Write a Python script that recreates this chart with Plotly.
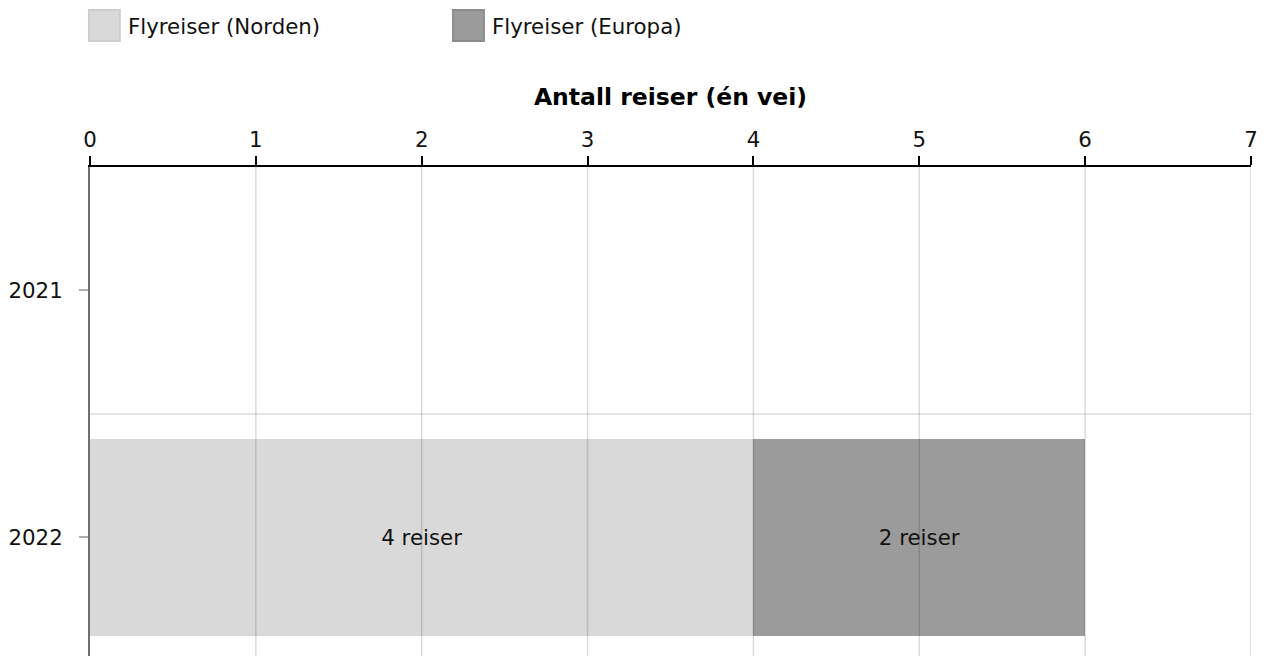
import plotly.graph_objects as go

years = ["2021", "2022"]
series_names = ["Flyreiser (Norden)", "Flyreiser (Europa)"]
norden = [None, 4]
europa = [None, 2]
bar_labels_norden = ["", "4 reiser"]
bar_labels_europa = ["", "2 reiser"]
x_ticks = [0, 1, 2, 3, 4, 5, 6, 7]
colors = ["#d9d9d9", "#9b9b9b"]
border_colors = ["#cdcdcd", "#8c8c8c"]

FONT = "Verdana, DejaVu Sans, sans-serif"
FS = 21.33

fig = go.Figure()
for vals, labels, name, col in [(norden, bar_labels_norden, series_names[0], colors[0]),
                                (europa, bar_labels_europa, series_names[1], colors[1])]:
    fig.add_trace(go.Bar(
        y=years, x=vals, name=name, orientation="h",
        marker=dict(color=col, line=dict(width=0)),
        text=labels, textposition="inside", insidetextanchor="middle",
        textfont=dict(family=FONT, size=FS, color="#111"),
        showlegend=False,
    ))

# manual legend (swatches + labels)
legend_x = [-0.0009, 0.3127]
for i, (name, col, bcol) in enumerate(zip(series_names, colors, border_colors)):
    fig.add_shape(type="rect", xref="paper", yref="paper",
                  x0=legend_x[i], x1=legend_x[i] + 0.0266, y0=1.2577, y1=1.3211,
                  fillcolor=col, line=dict(color=bcol, width=2))
    fig.add_annotation(x=legend_x[i] + 0.0315, y=1.2883, xref="paper", yref="paper",
                       text=name, showarrow=False, xanchor="left", yanchor="middle",
                       font=dict(family=FONT, size=FS, color="#111"))

# separator between categories
fig.add_shape(type="line", xref="paper", yref="y", x0=0, x1=1, y0=0.5, y1=0.5,
              line=dict(color="#e4e4e4", width=2), layer="below")

# vertical grid lines drawn above the bars (semi-transparent)
for t in x_ticks[1:]:
    fig.add_shape(type="line", xref="x", yref="paper", x0=t, x1=t, y0=0, y1=1,
                  line=dict(color="rgba(0,0,0,0.14)", width=1.5), layer="above")

fig.update_layout(
    width=1259, height=648,
    margin=dict(l=79, r=16, t=159, b=0),
    paper_bgcolor="white", plot_bgcolor="white",
    barmode="stack", bargap=0.2,
    font=dict(family=FONT, size=FS, color="#111"),
    xaxis=dict(
        side="top", range=[0, 7], tickvals=x_ticks,
        showline=True, linecolor="#000", linewidth=2,
        ticks="outside", ticklen=9, tickwidth=2, tickcolor="#000",
        showgrid=False, zeroline=False, ticklabelstandoff=0,
        tickfont=dict(family=FONT, size=FS, color="#111"),
        title=dict(text="<b>Antall reiser (én vei)</b>", standoff=15,
                   font=dict(family=FONT, size=23.5, color="#000")),
    ),
    yaxis=dict(
        type="category", categoryorder="array", categoryarray=years,
        range=[1.48, -0.5],
        showline=True, linecolor="#707070", linewidth=2,
        ticks="outside", ticklen=9, tickwidth=1.5, tickcolor="#b0b0b0",
        showgrid=False, zeroline=False, ticklabelstandoff=12,
        tickfont=dict(family=FONT, size=FS, color="#111"),
    ),
)

fig.write_html("out.html")
